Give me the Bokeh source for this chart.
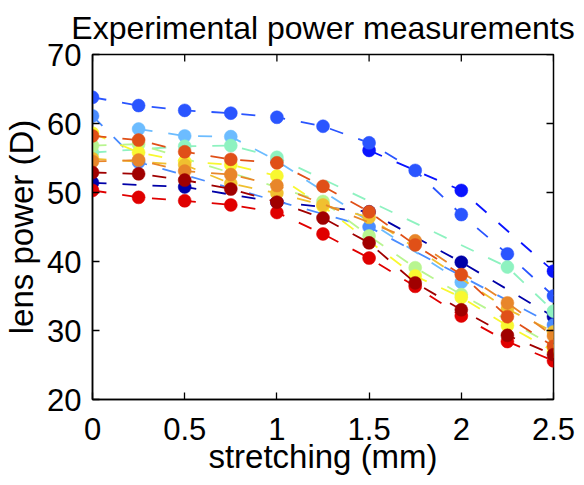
import math
from bokeh.plotting import figure
from bokeh.models import FixedTicker
from bokeh.embed import file_html
from bokeh.resources import INLINE

# ---------------- data ----------------
stretch = [0, 0.25, 0.5, 0.75, 1.0, 1.25, 1.5, 1.75, 2.0, 2.25, 2.5]

s_navy      = [51.4, None, 50.8, None, 48.6, None, 47.2, None, 39.9, None, 32.0]
s_blue      = [None, None, None, None, None, None, 56.1, None, 50.3, None, 38.6]
s_royal     = [63.8, 62.6, 61.9, 61.5, 60.9, 59.6, 57.2, 53.2, 46.8, 41.1, 35.0]
s_cornflwr  = [61.1, 54.4, None, None, None, None, 45.0, None, None, None, 30.8]
s_sky       = [None, 59.2, 58.2, 58.1, 54.6, None, None, None, 37.0, None, None]
s_aqua      = [55.8, None, 56.7, 56.8, 55.1, None, None, None, None, 39.2, 32.8]
s_lgreen    = [56.8, 57.0, None, None, None, 48.7, 43.7, 39.1, 35.2, None, 27.8]
s_yellow    = [58.6, 55.8, 54.5, 54.0, 52.4, 48.0, None, 37.9, 34.8, 30.7, 27.0]
s_golden    = [54.9, None, 54.0, 51.3, 49.9, 48.2, 46.4, None, None, 33.1, 29.8]
s_orange    = [54.5, 54.7, 53.1, 52.6, 51.0, None, None, 43.0, None, 34.0, 29.2]
s_orangered = [58.2, 57.6, 55.9, 54.8, 54.3, 50.9, 47.2, 42.4, 38.1, 32.0, 27.7]
s_red       = [50.3, 49.3, 48.8, 48.2, 47.1, 44.0, 40.5, 36.4, 32.1, 28.4, 25.6]
s_darkred   = [52.9, 52.7, 51.8, 50.5, 48.6, 46.3, 42.7, 36.9, 33.0, 29.3, 26.5]

series = [s_navy, s_blue, s_royal, s_cornflwr, s_sky, s_aqua, s_lgreen,
          s_yellow, s_golden, s_orange, s_orangered, s_red, s_darkred]
colors = ["#0000a8", "#0a14ff", "#2a55ff", "#4a8cff", "#6cbcff", "#8ef2c0",
          "#b8f590", "#f8f830", "#f0c030", "#e8862a", "#e05018", "#e00000",
          "#a00000"]

xticks = [0, 0.5, 1, 1.5, 2, 2.5]
xtick_labels = ["0", "0.5", "1", "1.5", "2", "2.5"]
yticks = [20, 30, 40, 50, 60, 70]
ytick_labels = ["20", "30", "40", "50", "60", "70"]
x_lim = (0, 2.5)
y_lim = (20, 70)

title_text = "Experimental power measurements"
xlabel = "stretching (mm)"
ylabel = "lens power (D)"

FONT = "Liberation Sans"

p = figure(width=576, height=477, x_range=x_lim, y_range=y_lim,
           output_backend="svg", toolbar_location=None,
           min_border_left=91, min_border_right=23,
           min_border_top=54, min_border_bottom=75)

p.title.text = title_text
p.title.align = "center"
p.title.vertical_align = "top"
p.title.text_font = FONT
p.title.text_font_size = "32px"
p.title.text_font_style = "normal"
p.title.text_color = "black"
p.title.standoff = 13

p.grid.visible = False
p.background_fill_color = "white"
p.border_fill_color = "white"
p.outline_line_color = "black"
p.outline_line_width = 1.5

for vals, c in zip(series, colors):
    xs = [x for x, v in zip(stretch, vals) if v is not None]
    ys = [v for v in vals if v is not None]
    p.line(xs, ys, line_color=c, line_width=1.8, line_dash="14 16")
    p.scatter(xs, ys, size=13, fill_color=c, line_color=c, line_width=0.5)

# inward ticks on the top and right edges of the box (half of each dash
# marker lies outside the frame and is clipped away)
p.scatter(xticks, [y_lim[1]] * len(xticks), marker="dash", size=14,
          angle=math.pi / 2, line_color="black", line_width=1.3)
p.scatter([x_lim[1]] * len(yticks), yticks, marker="dash", size=14,
          line_color="black", line_width=1.3)

xa = p.xaxis[0]
ya = p.yaxis[0]
for ax, ticks, labels in ((xa, xticks, xtick_labels), (ya, yticks, ytick_labels)):
    ax.ticker = FixedTicker(ticks=ticks)
    ax.major_label_overrides = {t: l for t, l in zip(ticks, labels)}
    ax.major_tick_in = 7
    ax.major_tick_out = 0
    ax.minor_tick_line_color = None
    ax.axis_line_color = "black"
    ax.axis_line_width = 1.5
    ax.major_tick_line_color = "black"
    ax.major_tick_line_width = 1.3
    ax.major_label_text_font = FONT
    ax.major_label_text_font_size = "31px"
    ax.major_label_text_color = "black"
    ax.axis_label_text_font = FONT
    ax.axis_label_text_font_size = "33px"
    ax.axis_label_text_font_style = "normal"
    ax.axis_label_text_color = "black"

xa.axis_label = xlabel
ya.axis_label = ylabel
xa.major_label_standoff = 18
ya.major_label_standoff = 11
xa.axis_label_standoff = -5
ya.axis_label_standoff = 4

open("out.html", "w").write(file_html(p, INLINE))
